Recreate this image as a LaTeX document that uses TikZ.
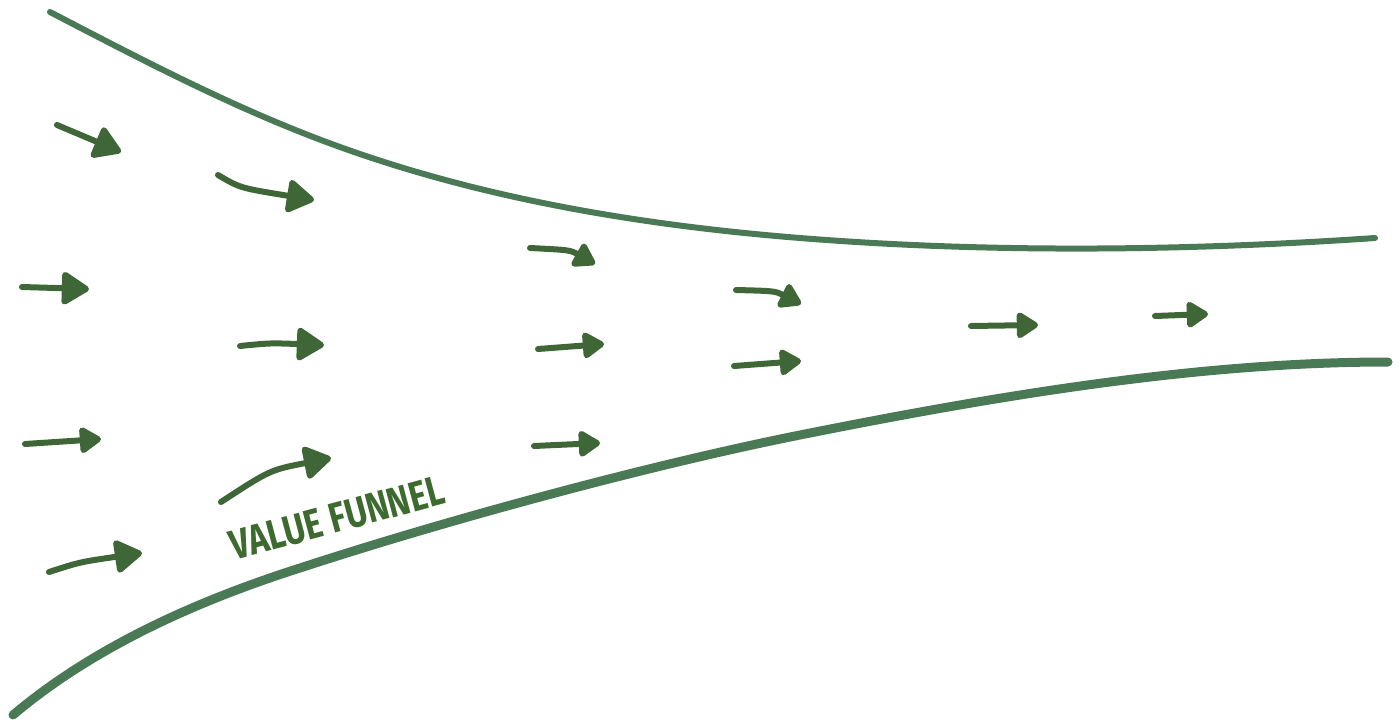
\documentclass[tikz,border=0pt]{standalone}
\usepackage{fontspec}
\setmainfont{Fira Sans}
\usetikzlibrary{arrows.meta}
\definecolor{funnel}{HTML}{4A7A55}
\definecolor{arr}{HTML}{3E6636}
\definecolor{txt}{HTML}{3D6A2E}
\tikzset{
  funnelline/.style={draw=funnel, line cap=round, line join=round},
  flow/.style={draw=arr, line width=6pt, line cap=round,
    -{Triangle[length=30pt,width=36pt,round]}},
  flowsmall/.style={flow, -{Triangle[length=24pt,width=29pt,round]}},
}
\begin{document}
\begin{tikzpicture}[x=1pt,y=-1pt]
\useasboundingbox (0,0) rectangle (1400,728);
% funnel walls
\coordinate (t0) at (50,12);   \coordinate (t1) at (340,147);
\coordinate (t2) at (800,238); \coordinate (t3) at (1375,238);
\coordinate (b0) at (13,715);  \coordinate (b1) at (300,568);
\coordinate (b2) at (800,435); \coordinate (b3) at (1388,362);
\draw[funnelline, line width=6pt] (t0) .. controls (150,64) and (240,111) .. (t1)
  .. controls (490,201) and (650,226) .. (t2)
  .. controls (1000,254) and (1200,250) .. (t3);
\draw[funnelline, line width=9pt] (b0) .. controls (90,650) and (190,603) .. (b1)
  .. controls (450,519) and (650,465) .. (b2)
  .. controls (1000,395) and (1200,362) .. (b3);
% arrows
\coordinate (a1s) at (57,125);   \coordinate (a1e) at (121,152);
\coordinate (a2s) at (218,175);  \coordinate (a2e) at (314,200);
\coordinate (a3s) at (22,287);   \coordinate (a3e) at (89,289);
\coordinate (a4s) at (240,346);  \coordinate (a4e) at (324,345);
\coordinate (a5s) at (530,248);  \coordinate (a5e) at (595,264);
\coordinate (a6s) at (538,349);  \coordinate (a6e) at (604,344);
\coordinate (a7s) at (534,446);  \coordinate (a7e) at (600,443);
\coordinate (a8s) at (736,290);  \coordinate (a8e) at (801,304);
\coordinate (a9s) at (734,366);  \coordinate (a9e) at (801,361);
\coordinate (a10s) at (971,326); \coordinate (a10e) at (1038,325);
\coordinate (a11s) at (1155,316);\coordinate (a11e) at (1208,314);
\coordinate (a12s) at (25,444);  \coordinate (a12e) at (101,439);
\coordinate (a13s) at (221,502); \coordinate (a13e) at (331,458);
\coordinate (a14s) at (49,572);  \coordinate (a14e) at (142,553);
\draw[flow] (a1s) -- (a1e);
\draw[flow] (a2s) .. controls (240,188) .. (a2e);
\draw[flow] (a3s) -- (a3e);
\draw[flow] (a4s) .. controls (270,343) .. (a4e);
\draw[flowsmall] (a5s) .. controls (570,250) .. (a5e);
\draw[flowsmall] (a6s) -- (a6e);
\draw[flowsmall] (a7s) -- (a7e);
\draw[flowsmall] (a8s) .. controls (775,291) .. (a8e);
\draw[flowsmall] (a9s) -- (a9e);
\draw[flowsmall] (a10s) -- (a10e);
\draw[flowsmall] (a11s) -- (a11e);
\draw[flowsmall] (a12s) -- (a12e);
\draw[flow] (a13s) .. controls (270,470) .. (a13e);
\draw[flow] (a14s) .. controls (80,562) .. (a14e);
% label
\node[text=txt, rotate=15, font=\fontsize{42}{44}\selectfont\bfseries, inner sep=0pt] (label) at (337,518) {\scalebox{0.8}[1]{VALUE FUNNEL}};
\end{tikzpicture}
\end{document}
